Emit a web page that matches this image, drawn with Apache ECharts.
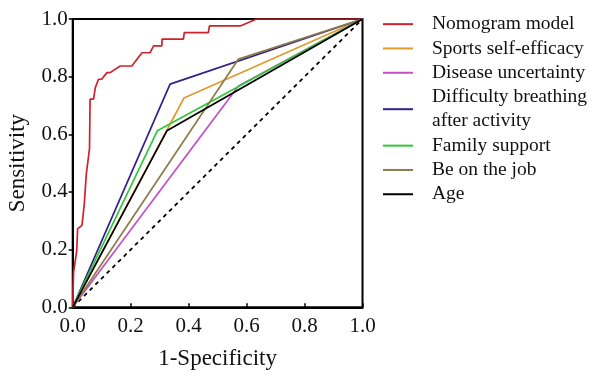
<!DOCTYPE html>
<html>
<head>
<meta charset="utf-8">
<script src="https://cdn.jsdelivr.net/npm/echarts@6/dist/echarts.min.js"></script>
<style>html,body{margin:0;padding:0;background:#fff}#c{width:594px;height:378px}</style>
</head>
<body>
<div id="c"></div>
<script>
// ---- data ----
const xTicks = [0.0, 0.2, 0.4, 0.6, 0.8, 1.0];
const yTicks = [0.0, 0.2, 0.4, 0.6, 0.8, 1.0];
const nomogramFPR = [0, 0.003, 0.003, 0.014, 0.017, 0.032, 0.040, 0.047, 0.058, 0.060, 0.072, 0.078, 0.089, 0.100, 0.118, 0.129, 0.164, 0.204, 0.239, 0.267, 0.279, 0.308, 0.308, 0.382, 0.385, 0.468, 0.472, 0.578, 0.635, 1.0];
const nomogramTPR = [0, 0, 0.122, 0.197, 0.272, 0.284, 0.359, 0.463, 0.550, 0.722, 0.722, 0.762, 0.791, 0.791, 0.814, 0.814, 0.837, 0.837, 0.883, 0.883, 0.907, 0.907, 0.930, 0.930, 0.953, 0.953, 0.976, 0.976, 1.0, 1.0];
const sportsFPR = [0, 0.384, 1];   const sportsTPR = [0, 0.726, 1];
const diseaseFPR = [0, 0.572, 1];  const diseaseTPR = [0, 0.768, 1];
const breathFPR = [0, 0.336, 1];   const breathTPR = [0, 0.774, 1];
const familyFPR = [0, 0.292, 1];   const familyTPR = [0, 0.612, 1];
const jobFPR = [0, 0.572, 1];      const jobTPR = [0, 0.861, 1];
const ageFPR = [0, 0.325, 1];      const ageTPR = [0, 0.612, 1];
const refFPR = [0, 1];             const refTPR = [0, 1];
const seriesNames = ['Nomogram model', 'Sports self-efficacy', 'Disease uncertainty', 'Difficulty breathing\nafter activity', 'Family support', 'Be on the job', 'Age'];
// ---- styles ----
const colors = ['#d0222c', '#e09a2c', '#c44fc4', '#34208a', '#30c83a', '#8a7d4a', '#000000'];
const FONT = '"Liberation Serif", "Times New Roman", serif';

const zip = (a, b) => a.map((v, i) => [v, b[i]]);
const pairs = [[nomogramFPR, nomogramTPR], [sportsFPR, sportsTPR], [diseaseFPR, diseaseTPR], [breathFPR, breathTPR], [familyFPR, familyTPR], [jobFPR, jobTPR], [ageFPR, ageTPR]];
const drawOrder = [5, 2, 1, 6, 4, 3, 0];
const series = drawOrder.map(i => ({
  name: seriesNames[i], type: 'line', data: zip(pairs[i][0], pairs[i][1]),
  symbol: 'none', lineStyle: { color: colors[i], width: 1.7 }, itemStyle: { color: colors[i] },
  z: 3 + i, animation: false
}));
series.push({
  name: 'ref', type: 'line', data: zip(refFPR, refTPR), symbol: 'none',
  lineStyle: { color: '#000', width: 1.8, type: [4, 4] }, z: 2, animation: false
});

const chart = echarts.init(document.getElementById('c'));
chart.setOption({
  animation: false,
  grid: { left: 72.7, right: 231.5, top: 19, bottom: 70.7, show: true, borderColor: '#000', borderWidth: 2 },
  legend: {
    data: seriesNames, orient: 'vertical', left: 383, top: 12, itemGap: 0, padding: 0,
    itemWidth: 30, itemHeight: 14, icon: 'path://M0,0 L30,0 L30,2 L0,2 Z',
    textStyle: { fontFamily: FONT, fontSize: 19.5, color: '#111', lineHeight: 24.3, padding: [0, 0, 0, 14] }
  },
  xAxis: {
    type: 'value', min: 0, max: 1, interval: 0.2,
    name: '1-Specificity', nameLocation: 'middle', nameGap: 40,
    nameTextStyle: { fontFamily: FONT, fontSize: 23, color: '#111' },
    axisLine: { show: true, lineStyle: { color: '#000', width: 2 } },
    axisTick: { show: true, inside: true, length: 4, lineStyle: { color: '#000', width: 1.5 } },
    axisLabel: { fontFamily: FONT, fontSize: 21, color: '#111', margin: 9, formatter: v => xTicks.includes(+v.toFixed(1)) ? v.toFixed(1) : '' },
    splitLine: { show: false }
  },
  yAxis: {
    type: 'value', min: 0, max: 1, interval: 0.2,
    name: 'Sensitivity', nameLocation: 'middle', nameGap: 43, nameRotate: 90,
    nameTextStyle: { fontFamily: FONT, fontSize: 23, color: '#111' },
    axisLine: { show: true, lineStyle: { color: '#000', width: 2 } },
    axisTick: { show: true, inside: false, length: 4, lineStyle: { color: '#000', width: 1.5 } },
    axisLabel: { fontFamily: FONT, fontSize: 21, color: '#111', margin: 5, formatter: v => yTicks.includes(+v.toFixed(1)) ? v.toFixed(1) : '' },
    splitLine: { show: false }
  },
  series: series
});
</script>
</body>
</html>
